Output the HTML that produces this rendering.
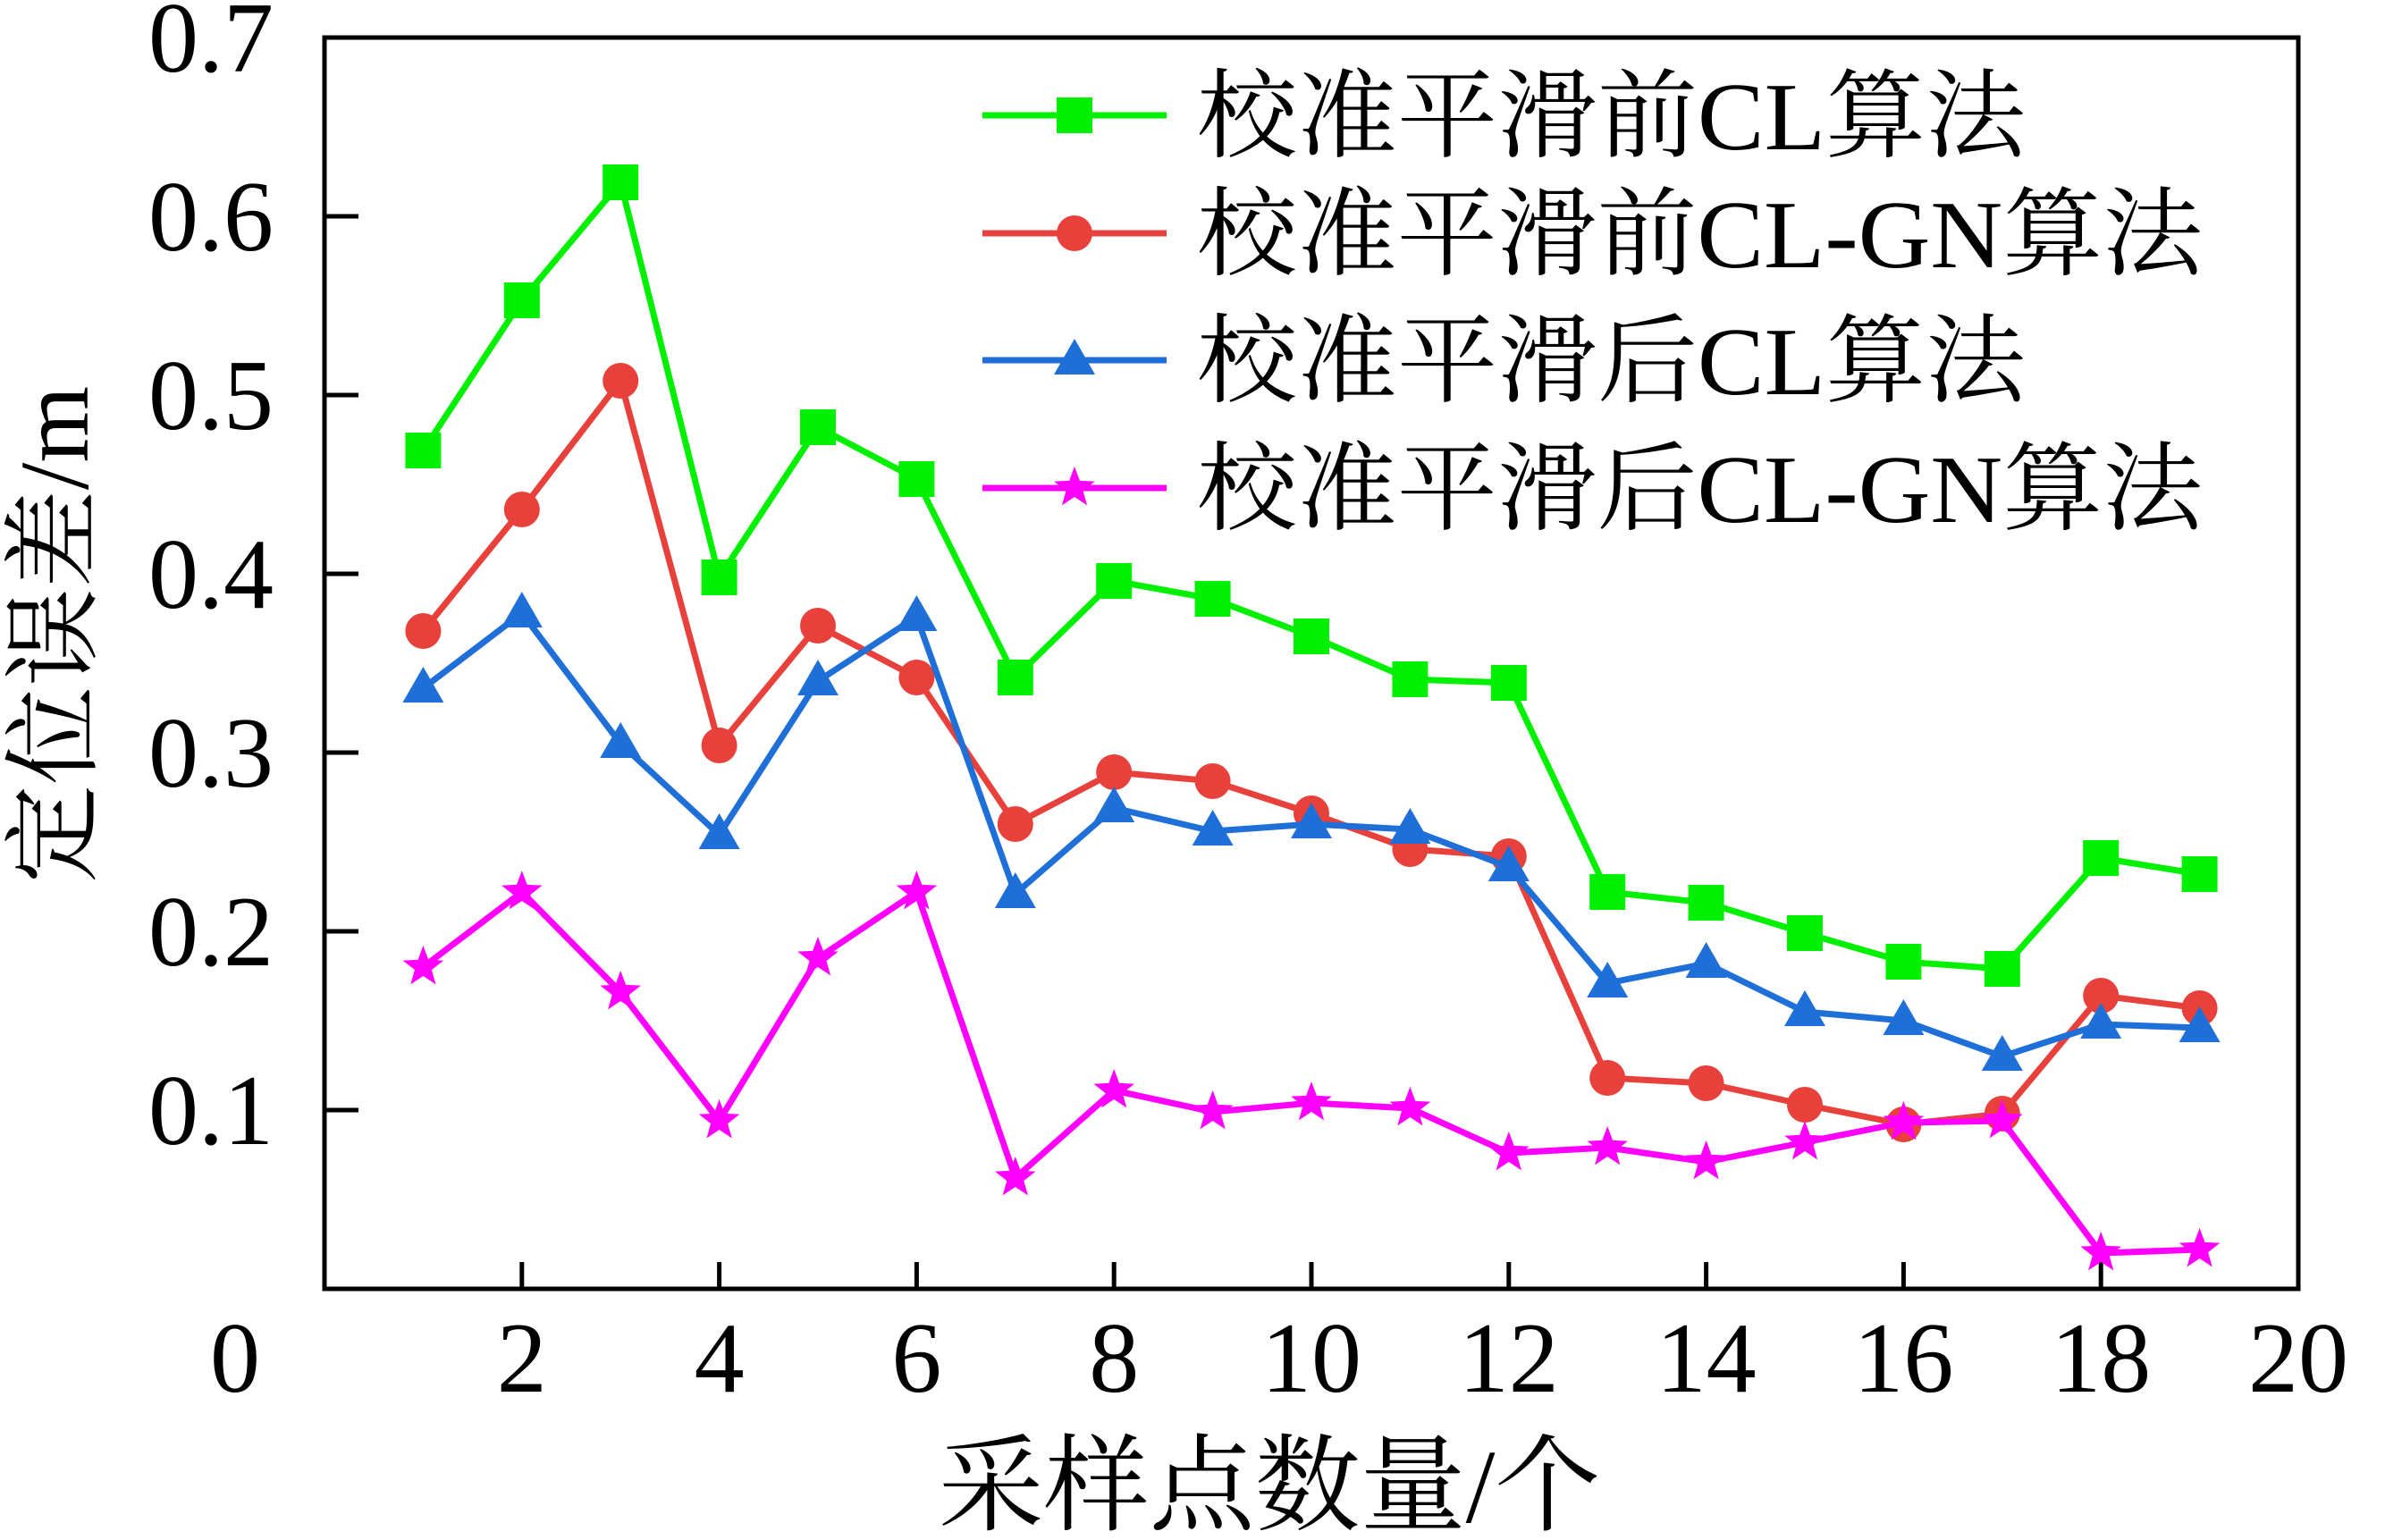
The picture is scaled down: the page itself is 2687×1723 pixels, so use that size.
<!DOCTYPE html>
<html><head><meta charset="utf-8"><style>
html,body{margin:0;padding:0;background:#fff;}
svg{display:block;}
text{font-family:"Liberation Serif","Noto Serif CJK SC",serif;fill:#000;}
</style></head><body>
<svg id="chart" width="2687" height="1723" viewBox="0 0 2687 1723" xmlns="http://www.w3.org/2000/svg">
<g id="plot"></g>
</svg>
<script>
const categories=[1,2,3,4,5,6,7,8,9,10,11,12,13,14,15,16,17,18,19];
const greenVals=[0.469,0.553,0.619,0.398,0.482,0.453,0.342,0.396,0.386,0.365,0.341,0.339,0.222,0.216,0.199,0.183,0.179,0.241,0.232];
const redVals=[0.368,0.436,0.508,0.304,0.371,0.342,0.260,0.289,0.284,0.266,0.246,0.242,0.118,0.115,0.103,0.092,0.098,0.164,0.157];
const blueVals=[0.336,0.378,0.305,0.254,0.340,0.376,0.221,0.269,0.256,0.260,0.257,0.236,0.171,0.182,0.155,0.150,0.130,0.148,0.146];
const magentaVals=[0.180,0.222,0.166,0.094,0.185,0.222,0.062,0.111,0.099,0.104,0.101,0.076,0.079,0.071,0.082,0.093,0.094,0.020,0.022];
const xTicks=[2,4,6,8,10,12,14,16,18];
const xTickLabels=["0","2","4","6","8","10","12","14","16","18","20"];
const yTicks=[0.1,0.2,0.3,0.4,0.5,0.6];
const yTickLabels=["0.1","0.2","0.3","0.4","0.5","0.6","0.7"];
const seriesNames=["校准平滑前CL算法","校准平滑前CL-GN算法","校准平滑后CL算法","校准平滑后CL-GN算法"];

const L=363,R=2571,T=42,B=1442;
const xs=v=>L+(v-0)/(20-0)*(R-L);
const ys=v=>B-(v-0)/(0.7-0)*(B-T);
const NS="http://www.w3.org/2000/svg";
const g=document.getElementById('plot');
function mk(tag,attrs,parent){const e=document.createElementNS(NS,tag);for(const k in attrs)e.setAttribute(k,attrs[k]);(parent||g).appendChild(e);return e;}

const frame=mk('rect',{x:L,y:T,width:R-L,height:B-T,fill:'none',stroke:'#000','stroke-width':5});


xTicks.forEach(t=>{const l=mk('line',{x1:xs(t),x2:xs(t),y1:B,y2:B-30,stroke:'#000','stroke-width':5});

});
yTicks.forEach(t=>{const l=mk('line',{x1:L,x2:L+38,y1:ys(t),y2:ys(t),stroke:'#000','stroke-width':5});

});
xTickLabels.forEach((s,i)=>{const v=i*2;const x=(v===0)?263:xs(v);
const t=mk('text',{x:x,y:1557,'text-anchor':'middle','font-size':112});t.textContent=s;

});
yTickLabels.forEach((s,i)=>{const v=(i+1)/10;
const t=mk('text',{x:306,y:ys(v)+38,'text-anchor':'end','font-size':112});t.textContent=s;

});
const xt=mk('text',{x:1420,y:1703,'text-anchor':'middle','font-size':118});xt.textContent='采样点数量/个';


const yt=mk('text',{x:0,y:0,'text-anchor':'middle','font-size':110,transform:'translate(98,710) rotate(-90)'});yt.textContent='定位误差/m';



function marker(type,x,y,color,parent){
  if(type==='square') return mk('rect',{x:x-20,y:y-20,width:40,height:40,fill:color},parent);
  if(type==='circle') return mk('circle',{cx:x,cy:y,r:20,fill:color},parent);
  if(type==='tri') return mk('polygon',{points:`${x},${y-24} ${x+23},${y+16} ${x-23},${y+16}`,fill:color},parent);
  let p=[];for(let k=0;k<10;k++){const r=k%2?10:24;const a=-Math.PI/2+k*Math.PI/5;p.push((x+r*Math.cos(a)).toFixed(1)+','+(y+r*Math.sin(a)).toFixed(1));}
  return mk('polygon',{points:p.join(' '),fill:color},parent);
}
const series=[
 {vals:greenVals,color:'#00f000',m:'square',name:'series-cl-before'},
 {vals:redVals,color:'#e8413c',m:'circle',name:'series-clgn-before'},
 {vals:blueVals,color:'#1f6fd8',m:'tri',name:'series-cl-after'},
 {vals:magentaVals,color:'#ff00ff',m:'star',name:'series-clgn-after'}];
series.forEach(s=>{
  const sg=mk('g',{});
  
  
  const pts=s.vals.map((v,i)=>xs(categories[i])+','+ys(v)).join(' ');
  const pl=mk('polyline',{points:pts,fill:'none',stroke:s.color,'stroke-width':7,'stroke-linejoin':'round'},sg);
  
  
  s.vals.forEach((v,i)=>{const m=marker(s.m,xs(categories[i]),ys(v),s.color,sg);
  
  });
});
const legY=[129,261,403,546];
const legW=[927,1125,927,1125];
series.forEach((s,i)=>{
  const lg=mk('g',{});
  
  
  mk('line',{x1:1099,x2:1305,y1:legY[i],y2:legY[i],stroke:s.color,'stroke-width':7},lg);
  marker(s.m,1202,legY[i],s.color,lg);
  const t=mk('text',{x:1339,y:legY[i]+38,'font-size':108,textLength:legW[i],lengthAdjust:'spacingAndGlyphs'},lg);t.textContent=seriesNames[i];
});
</script>
</body></html>
